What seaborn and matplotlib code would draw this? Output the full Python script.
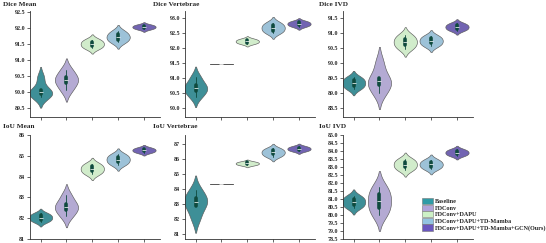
import numpy as np
import pandas as pd
import matplotlib
matplotlib.use("Agg")
import matplotlib.pyplot as plt
import seaborn as sns
from matplotlib.patches import Patch

# modelli e colori
models = ["Baseline", "FDConv", "FDConv+DAPU", "FDConv+DAPU+TD-Mamba",
          "FDConv+DAPU+TD-Mamba+GCN(Ours)"]
colors = ["#2f9ba6", "#b0a3da", "#cdf1c6", "#93c4e2", "#6a57bf"]

# valori (5 run per modello)
dice_mean = [
    [89.85, 89.93, 90.00, 90.07, 90.45],
    [90.05, 90.27, 90.38, 90.48, 90.70],
    [91.36, 91.43, 91.50, 91.57, 91.64],
    [91.55, 91.64, 91.72, 91.80, 91.90],
    [91.96, 92.00, 92.03, 92.07, 92.10],
]
dice_vert = [
    [90.38, 90.57, 90.67, 90.77, 91.03],
    [91.45, 91.45, 91.45, 91.45, 91.45],
    [92.14, 92.18, 92.22, 92.26, 92.30],
    [92.50, 92.58, 92.67, 92.75, 92.84],
    [92.71, 92.76, 92.80, 92.85, 92.89],
]
dice_ivd = [
    [89.14, 89.24, 89.33, 89.43, 89.52],
    [89.00, 89.25, 89.40, 89.50, 90.00],
    [90.47, 90.59, 90.70, 90.81, 90.93],
    [90.56, 90.65, 90.73, 90.82, 90.90],
    [91.08, 91.14, 91.20, 91.26, 91.32],
]
iou_mean = [
    [81.83, 81.93, 82.03, 82.13, 82.23],
    [82.10, 82.40, 82.55, 82.70, 83.10],
    [84.12, 84.25, 84.37, 84.50, 84.62],
    [84.57, 84.70, 84.82, 84.95, 85.07],
    [85.15, 85.21, 85.27, 85.33, 85.39],
]
iou_vert = [
    [82.05, 82.85, 83.10, 83.37, 83.90],
    [84.35, 84.35, 84.35, 84.35, 84.35],
    [85.58, 85.64, 85.70, 85.76, 85.82],
    [86.15, 86.30, 86.43, 86.57, 86.70],
    [86.52, 86.60, 86.68, 86.76, 86.84],
]
iou_ivd = [
    [80.45, 80.63, 80.82, 81.00, 81.18],
    [80.00, 80.45, 80.88, 81.30, 81.75],
    [82.80, 82.98, 83.15, 83.33, 83.50],
    [82.87, 83.02, 83.16, 83.30, 83.45],
    [83.70, 83.80, 83.90, 84.00, 84.10],
]

panels = [
    ("Dice Mean", dice_mean, (89.22, 92.53), np.arange(89.5, 92.51, 0.5), "%.1f"),
    ("Dice Vertebrae", dice_vert, (89.7, 93.23), np.arange(90.0, 93.01, 0.5), "%.1f"),
    ("Dice IVD", dice_ivd, (88.2, 91.73), np.arange(88.5, 91.51, 0.5), "%.1f"),
    ("IoU Mean", iou_mean, (81.0, 86.0), np.arange(81, 86.1, 1), "%.0f"),
    ("IoU Vertebrae", iou_vert, (80.64, 87.6), np.arange(81, 87.1, 1), "%.0f"),
    ("IoU IVD", iou_ivd, (78.5, 85.0), np.arange(78.5, 85.01, 0.5), "%.1f"),
]

sns.set_style("ticks")
plt.rcParams["font.family"] = ["Liberation Serif", "DejaVu Serif"]
plt.rcParams["font.weight"] = "bold"

fig = plt.figure(figsize=(5.46, 2.43), dpi=100)
W, H = 546, 243
lefts = [30, 185, 343]
tops = [11, 135]
bottoms = [117, 239]
title_x = [3, 153, 319]
title_y = [5, 127]

for i, (titolo, valori, ylim, yticks, fmt) in enumerate(panels):
    r, c = divmod(i, 3)
    ax = fig.add_axes([lefts[c] / W, 1 - bottoms[r] / H, 130 / W,
                       (bottoms[r] - tops[r]) / H])
    df = pd.DataFrame({
        "model": np.repeat(models, [len(v) for v in valori]),
        "value": np.concatenate(valori),
    })
    sns.violinplot(data=df, x="model", y="value", hue="model", order=models,
                   hue_order=models, palette=colors, legend=False, ax=ax,
                   density_norm="width", width=0.9, linewidth=0.45,
                   linecolor="#5a5a5a", inner="box",
                   inner_kws=dict(box_width=2.6, whis_width=0.6, color="#0f4a3e"))
    ax.set_xlim(-0.41, 4.62)
    ax.set_ylim(*ylim)
    ax.set_yticks(yticks)
    ax.set_yticklabels([fmt % t for t in yticks])
    ax.set_xticks(range(5))
    ax.set_xticklabels([])
    ax.set_xlabel("")
    ax.set_ylabel("")
    ax.tick_params(axis="both", length=2, width=0.5, labelsize=4.3, pad=1.5)
    for s in ["left", "bottom"]:
        ax.spines[s].set_linewidth(0.6)
        ax.spines[s].set_color("#333333")
    sns.despine(ax=ax)
    fig.text(title_x[c] / W, 1 - title_y[r] / H, titolo, fontsize=5.2,
             fontweight="bold", va="center", ha="left")

handles = [Patch(facecolor=col, edgecolor="#777777", linewidth=0.4) for col in colors]
fig.legend(handles, models, loc="upper left", bbox_to_anchor=(0.772, 0.185),
           frameon=False, fontsize=4.4, handlelength=1.8, handleheight=1.2,
           labelspacing=0.05, handletextpad=0.35, borderaxespad=0, borderpad=0)

plt.savefig("out.png", dpi=100)
plt.close()
